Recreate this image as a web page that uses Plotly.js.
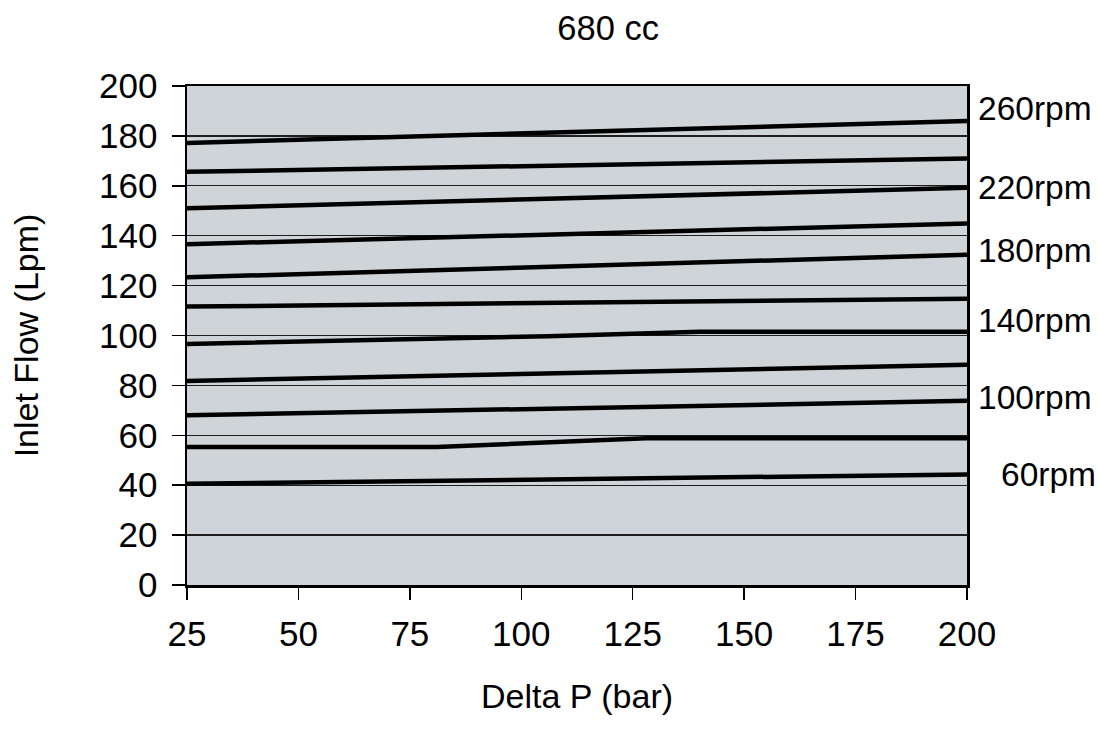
<!DOCTYPE html>
<html>
<head>
<meta charset="utf-8">
<script src="https://cdn.plot.ly/plotly-3.0.1.min.js"></script>
<style>html,body{margin:0;padding:0;background:#fff;}#chart{width:1099px;height:736px;}</style>
</head>
<body>
<div id="chart"></div>
<script>
// Delta P (bar) / Inlet Flow (Lpm) per speed line
const rpm260_x = [25, 200];
const rpm260_y = [177.2, 186.0];
const rpm240_x = [25, 200];
const rpm240_y = [165.6, 170.9];
const rpm220_x = [25, 200];
const rpm220_y = [151.0, 159.2];
const rpm200_x = [25, 200];
const rpm200_y = [136.6, 144.9];
const rpm180_x = [25, 200];
const rpm180_y = [123.3, 132.4];
const rpm160_x = [25, 200];
const rpm160_y = [111.6, 114.7];
const rpm140_x = [25, 106, 140, 200];
const rpm140_y = [96.6, 99.7, 101.5, 101.5];
const rpm120_x = [25, 200];
const rpm120_y = [81.8, 88.3];
const rpm100_x = [25, 200];
const rpm100_y = [68.0, 73.8];
const rpm80_x = [25, 81, 128, 200];
const rpm80_y = [55.3, 55.3, 58.8, 58.8];
const rpm60_x = [25, 200];
const rpm60_y = [40.6, 44.3];

const seriesX = [rpm260_x, rpm240_x, rpm220_x, rpm200_x, rpm180_x, rpm160_x, rpm140_x, rpm120_x, rpm100_x, rpm80_x, rpm60_x];
const seriesY = [rpm260_y, rpm240_y, rpm220_y, rpm200_y, rpm180_y, rpm160_y, rpm140_y, rpm120_y, rpm100_y, rpm80_y, rpm60_y];
const seriesNames = ['260rpm','240rpm','220rpm','200rpm','180rpm','160rpm','140rpm','120rpm','100rpm','80rpm','60rpm'];

const labelText = ['260rpm', '220rpm', '180rpm', '140rpm', '100rpm', '60rpm'];
const labelY = [190.8, 159.2, 134.0, 106.0, 75.2, 44.4];

const xTicks = [25, 50, 75, 100, 125, 150, 175, 200];

const FONT = 'Liberation Sans, Arial, Helvetica, sans-serif';

const traces = seriesX.map((xs, i) => ({
  type: 'scatter', mode: 'lines', x: xs, y: seriesY[i], name: seriesNames[i],
  line: {color: '#000000', width: 4.5}, hoverinfo: 'x+y+name'
}));

const annotations = labelText.map((t, i) => ({
  xref: 'paper', yref: 'y', x: i === labelText.length - 1 ? 1.041 : 1.0115, y: labelY[i],
  xanchor: 'left', yanchor: 'middle', text: t, showarrow: false,
  font: {family: FONT, size: 33.5, color: '#000'}
}));

const layout = {
  width: 1099, height: 736,
  margin: {l: 187, r: 132, t: 86, b: 151, pad: 0},
  paper_bgcolor: '#ffffff', plot_bgcolor: '#cfd4d8',
  showlegend: false,
  font: {family: FONT, size: 34, color: '#000'},
  title: {text: '680 cc', font: {family: FONT, size: 34.5, color: '#000'},
          xref: 'paper', x: 0.54, xanchor: 'center', yref: 'container', y: 1 - 28/736, yanchor: 'middle'},
  xaxis: {
    range: [25, 200], tickvals: xTicks, ticktext: xTicks.map(String),
    ticks: 'outside', ticklen: 12, tickwidth: 1.5, tickcolor: '#000',
    ticklabelstandoff: 4,
    showline: true, linecolor: '#000', linewidth: 2.5, mirror: true,
    showgrid: false, zeroline: false,
    tickfont: {family: FONT, size: 35, color: '#000'},
    title: {text: 'Delta P (bar)', font: {family: FONT, size: 34, color: '#000'}, standoff: 33}
  },
  yaxis: {
    range: [0, 200], dtick: 20, tick0: 0,
    ticks: 'outside', ticklen: 13, tickwidth: 1.5, tickcolor: '#000',
    ticklabelstandoff: 7,
    showline: true, linecolor: '#000', linewidth: 2.5, mirror: true,
    showgrid: true, gridcolor: '#1e1e1e', gridwidth: 1.2,
    zeroline: true, zerolinecolor: '#000', zerolinewidth: 5,
    tickfont: {family: FONT, size: 35, color: '#000'},
    title: {text: 'Inlet Flow (Lpm)', font: {family: FONT, size: 34, color: '#000'}, standoff: 50}
  },
  annotations: annotations
};

Plotly.newPlot('chart', traces, layout, {displayModeBar: false, staticPlot: true});
</script>
</body>
</html>
